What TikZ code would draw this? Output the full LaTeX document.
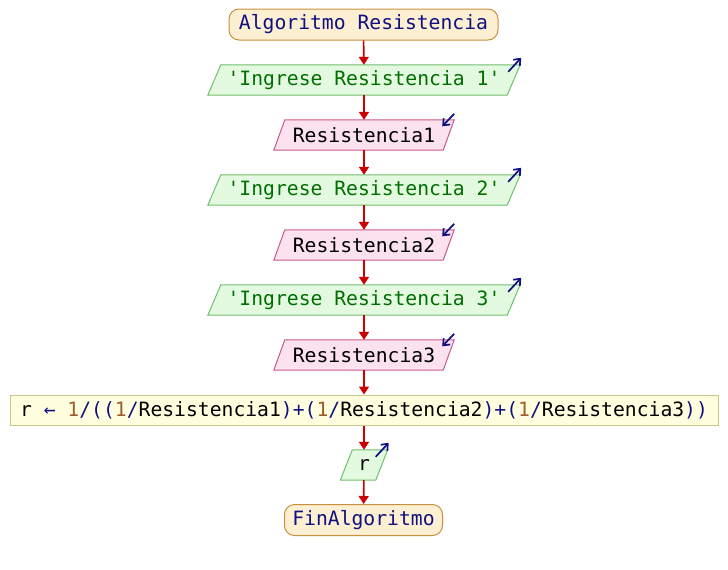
\documentclass[tikz,border=0pt]{standalone}
\usepackage{fontspec}
\newfontfamily\monof{DejaVu Sans Mono}
\usetikzlibrary{calc,arrows.meta,backgrounds}
\definecolor{termf}{HTML}{FCEFD2}
\definecolor{termb}{HTML}{C8903C}
\definecolor{outf}{HTML}{E4FAE0}
\definecolor{outb}{HTML}{70C070}
\definecolor{inf}{HTML}{FCE2EE}
\definecolor{inb}{HTML}{C85A8A}
\definecolor{procf}{HTML}{FFFFE0}
\definecolor{procb}{HTML}{C8C888}
\definecolor{navyc}{HTML}{101080}
\definecolor{strc}{HTML}{006E00}
\definecolor{numc}{HTML}{A05A2C}
\definecolor{flowc}{HTML}{CC0000}
\begin{document}
\begin{tikzpicture}[x=1pt,y=-1pt,
  every node/.style={font=\monof\fontsize{19.7}{22}\selectfont, inner sep=0pt, anchor=center},
  term/.style={draw=termb, fill=termf, line width=1pt, rounded corners=10pt, minimum height=31pt, text=navyc},
  iobox/.style={minimum height=30pt},
  proc/.style={draw=procb, fill=procf, line width=1pt, minimum height=30pt, minimum width=708pt},
  flow/.style={draw=flowc, line width=1.6pt, -{Triangle[length=8pt,width=10pt]}},
  icon/.style={draw=navyc, line width=1.7pt, -{Straight Barb[length=5.5pt,width=9pt]}}
]
\useasboundingbox (0,0) rectangle (728,570);

\node[term, minimum width=269pt] (start) at (363.5,24.5) {Algoritmo Resistencia};
\node[iobox, minimum width=299pt, text=strc] (out1) at (364,80) {'Ingrese Resistencia 1'};
\node[iobox, minimum width=169pt] (in1) at (364,135) {Resistencia1};
\node[iobox, minimum width=299pt, text=strc] (out2) at (364,190) {'Ingrese Resistencia 2'};
\node[iobox, minimum width=169pt] (in2) at (364,245) {Resistencia2};
\node[iobox, minimum width=299pt, text=strc] (out3) at (364,300) {'Ingrese Resistencia 3'};
\node[iobox, minimum width=169pt] (in3) at (364,355) {Resistencia3};
\node[proc] (calc) at (364,410) {r {\color{navyc}←} {\color{numc}1}{\color{navyc}/((}{\color{numc}1}{\color{navyc}/}Resistencia1{\color{navyc})+(}{\color{numc}1}{\color{navyc}/}Resistencia2{\color{navyc})+(}{\color{numc}1}{\color{navyc}/}Resistencia3{\color{navyc}))}};
\node[iobox, minimum width=35pt] (outr) at (364,465) {r};
\node[term, minimum width=158pt] (fin) at (363.5,520) {FinAlgoritmo};

\begin{scope}[on background layer]
  \foreach \n/\s in {out1/13,out2/13,out3/13,outr/12}{
    \draw[draw=outb, fill=outf, line width=1pt]
      ($(\n.north west)+(\s/2,0)$) -- ($(\n.north east)+(\s/2,0)$) --
      ($(\n.south east)+(-\s/2,0)$) -- ($(\n.south west)+(-\s/2,0)$) -- cycle;
  }
  \foreach \n/\s in {in1/11,in2/11,in3/11}{
    \draw[draw=inb, fill=inf, line width=1pt]
      ($(\n.north west)+(\s/2,0)$) -- ($(\n.north east)+(\s/2,0)$) --
      ($(\n.south east)+(-\s/2,0)$) -- ($(\n.south west)+(-\s/2,0)$) -- cycle;
  }
\end{scope}

\foreach \n/\s in {out1/13,out2/13,out3/13,outr/12}{
  \draw[icon] ($(\n.north east)+(\s/2,0)+(-12,7)$) -- ++(13,-14);
}
\foreach \n/\s in {in1/11,in2/11,in3/11}{
  \draw[icon] ($(\n.north east)+(\s/2,0)+(0,-6)$) -- ++(-12,12.5);
}

\draw[flow] (start) -- (out1);
\draw[flow] (out1) -- (in1);
\draw[flow] (in1) -- (out2);
\draw[flow] (out2) -- (in2);
\draw[flow] (in2) -- (out3);
\draw[flow] (out3) -- (in3);
\draw[flow] (in3) -- (calc);
\draw[flow] (calc) -- (outr);
\draw[flow] (outr) -- (fin);
\end{tikzpicture}
\end{document}
